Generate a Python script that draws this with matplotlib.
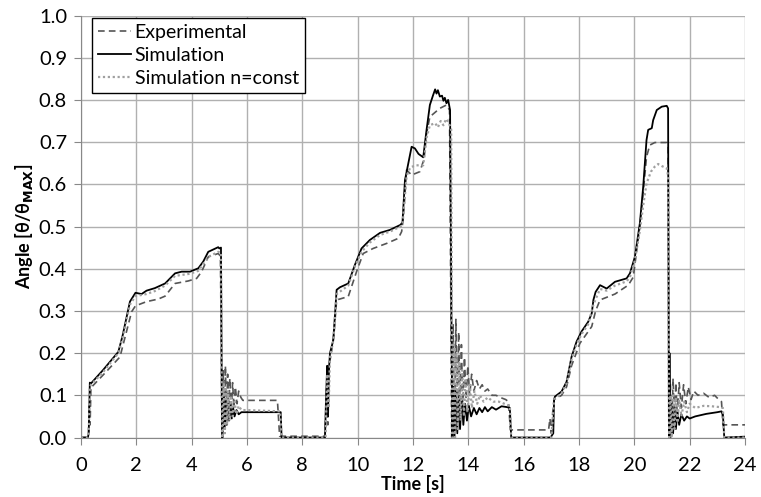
import matplotlib
matplotlib.use('Agg')
import matplotlib.pyplot as plt

plt.rcParams['font.family'] = ['Lato', 'DejaVu Sans']

# Experimental (dashed)
exp_t = [0.0, 0.25, 0.27, 0.30, 0.33, 0.36, 0.39, 0.9, 1.41, 1.83, 1.97, 2.37, 2.79, 3.04, 3.40, 3.88,
         4.18, 4.36, 4.60, 4.96, 5.04, 5.10,
         5.14, 5.18, 5.22, 5.26, 5.30, 5.34, 5.38, 5.43, 5.48, 5.53, 5.58, 5.64, 5.70, 5.78, 5.85,
         6.5, 7.10, 7.18, 8.82, 8.88, 8.92, 8.96, 9.05, 9.15,
         9.24, 9.66, 9.96, 10.20, 10.56, 11.05, 11.47, 11.59, 11.65, 11.77, 11.95, 12.25, 12.40, 12.49,
         12.61, 12.97, 13.21, 13.32, 13.40,
         13.45, 13.50, 13.55, 13.60, 13.65, 13.70, 13.75, 13.80, 13.86, 13.92, 13.98, 14.05, 14.12,
         14.20, 14.30, 14.40, 14.50, 14.60, 14.70, 14.85, 15.00, 15.15, 15.35, 15.45, 15.52,
         16.90, 16.95, 17.00, 17.05, 17.10, 17.37, 17.55, 17.73, 18.03, 18.46, 18.60, 18.76, 19.30,
         19.78, 19.96, 20.08, 20.20, 20.32, 20.44, 20.56, 20.74, 21.17, 21.22, 21.26,
         21.30, 21.35, 21.40, 21.45, 21.50, 21.55, 21.62, 21.70, 21.78, 21.86, 21.95, 22.05, 22.15,
         22.30, 22.50, 22.70, 22.90, 23.05, 23.15, 23.20, 24.0]
exp_y = [0.0, 0.0, 0.003, 0.075, 0.03, 0.12, 0.12, 0.155, 0.191, 0.298, 0.312, 0.322, 0.328, 0.335, 0.365, 0.371,
         0.377, 0.393, 0.428, 0.436, 0.43, 0.0,
         0.16, 0.02, 0.17, 0.04, 0.15, 0.05, 0.14, 0.06, 0.13, 0.07, 0.12, 0.08, 0.11, 0.095, 0.088,
         0.088, 0.088, 0.003, 0.003, 0.12, 0.03, 0.17, 0.20, 0.25,
         0.326, 0.334, 0.393, 0.436, 0.448, 0.460, 0.472, 0.488, 0.52, 0.634, 0.622, 0.630, 0.66, 0.72,
         0.760, 0.780, 0.788, 0.776, 0.0,
         0.27, 0.01, 0.28, 0.03, 0.25, 0.05, 0.22, 0.07, 0.19, 0.09, 0.17, 0.10, 0.15,
         0.11, 0.135, 0.115, 0.125, 0.11, 0.115, 0.10, 0.10, 0.095, 0.09, 0.085, 0.018,
         0.018, 0.045, 0.01, 0.06, 0.09, 0.100, 0.12, 0.17, 0.223, 0.263, 0.30, 0.326, 0.34,
         0.361, 0.38, 0.44, 0.50, 0.58, 0.665, 0.693, 0.699, 0.699, 0.69, 0.0,
         0.13, 0.01, 0.14, 0.03, 0.13, 0.05, 0.13, 0.07, 0.125, 0.08, 0.12, 0.09, 0.11,
         0.10, 0.105, 0.095, 0.10, 0.09, 0.085, 0.03, 0.03]

# Simulation (solid)
sim_t = [0.0, 0.25, 0.28, 0.32, 0.36, 0.8, 1.35, 1.5, 1.77, 1.97, 2.19, 2.37, 2.67, 3.04, 3.40, 3.64,
         3.94, 4.24, 4.42, 4.60, 4.96, 5.00, 5.06, 5.10,
         5.12, 5.15, 5.19, 5.23, 5.27, 5.31, 5.35, 5.40, 5.45, 5.50, 5.55, 5.62, 5.70, 5.80,
         6.5, 7.22, 7.25, 8.82, 8.86, 8.90, 8.93, 8.96, 9.00, 9.12,
         9.24, 9.36, 9.66, 9.90, 10.14, 10.44, 10.81, 11.17, 11.55, 11.62, 11.71, 11.83, 11.95, 12.07,
         12.20, 12.37, 12.49, 12.61, 12.72, 12.80, 12.85, 12.90, 12.97, 13.05, 13.10, 13.15, 13.21,
         13.27, 13.34, 13.42,
         13.46, 13.50, 13.55, 13.60, 13.65, 13.70, 13.76, 13.82, 13.88, 13.95, 14.02, 14.10, 14.20,
         14.30, 14.40, 14.50, 14.60, 14.70, 14.85, 15.00, 15.20, 15.40, 15.50, 15.55,
         16.95, 17.00, 17.07, 17.10, 17.13, 17.37, 17.55, 17.73, 17.91, 18.09, 18.33, 18.46, 18.52,
         18.60, 18.76, 19.00, 19.30, 19.72, 19.84, 20.02, 20.20, 20.32, 20.44, 20.50, 20.63, 20.68,
         20.81, 20.99, 21.17, 21.22, 21.25,
         21.27, 21.30, 21.35, 21.40, 21.45, 21.50, 21.56, 21.62, 21.70, 21.80, 21.90, 22.00, 22.20,
         22.40, 22.60, 22.80, 23.00, 23.15, 23.20, 23.25, 24.0]
sim_y = [0.0, 0.0, 0.01, 0.13, 0.128, 0.16, 0.203, 0.24, 0.322, 0.343, 0.340, 0.348, 0.354, 0.365, 0.389, 0.393,
         0.393, 0.401, 0.417, 0.440, 0.451, 0.448, 0.45, 0.0,
         0.0, 0.10, 0.02, 0.09, 0.03, 0.08, 0.04, 0.075, 0.045, 0.07, 0.05, 0.065, 0.055, 0.06,
         0.06, 0.06, 0.0, 0.0, 0.10, 0.17, 0.05, 0.16, 0.20, 0.231,
         0.35, 0.356, 0.365, 0.409, 0.448, 0.468, 0.485, 0.492, 0.504, 0.51, 0.610, 0.650, 0.689, 0.685,
         0.672, 0.664, 0.729, 0.788, 0.81, 0.825, 0.815, 0.823, 0.808, 0.81, 0.798, 0.805, 0.792,
         0.80, 0.776, 0.0,
         0.12, 0.0, 0.11, 0.01, 0.10, 0.02, 0.09, 0.03, 0.08, 0.04, 0.075, 0.05, 0.07,
         0.055, 0.07, 0.06, 0.072, 0.062, 0.072, 0.066, 0.074, 0.072, 0.07, 0.0,
         0.0, 0.003, 0.01, 0.09, 0.097, 0.109, 0.132, 0.191, 0.227, 0.251, 0.274, 0.294, 0.326,
         0.345, 0.361, 0.353, 0.369, 0.377, 0.389, 0.428, 0.508, 0.594, 0.705, 0.729, 0.733, 0.752,
         0.776, 0.784, 0.786, 0.78, 0.0,
         0.20, 0.0, 0.08, 0.01, 0.07, 0.02, 0.06, 0.03, 0.055, 0.04, 0.05, 0.045, 0.05,
         0.053, 0.056, 0.058, 0.06, 0.062, 0.055, 0.0, 0.002]

# Simulation n=const (dotted)
nc_t = [0.0, 0.25, 0.28, 0.32, 0.36, 0.8, 1.35, 1.5, 1.77, 1.97, 2.37, 2.67, 3.04, 3.40, 3.94, 4.24,
        4.60, 4.96, 5.06, 5.10,
        5.12, 5.16, 5.20, 5.24, 5.28, 5.32, 5.37, 5.42, 5.48, 5.55, 5.62, 5.70, 5.80, 6.00,
        7.20, 7.25, 8.84, 8.90, 8.95, 9.00, 9.12,
        9.24, 9.66, 9.90, 10.14, 10.44, 10.81, 11.17, 11.55, 11.62, 11.77, 11.90, 12.10, 12.37, 12.49,
        12.61, 12.80, 12.90, 13.00, 13.10, 13.20, 13.30, 13.38, 13.42,
        13.44, 13.48, 13.52, 13.57, 13.62, 13.67, 13.72, 13.78, 13.84, 13.90, 13.97, 14.05, 14.13,
        14.22, 14.32, 14.42, 14.55, 14.70, 14.90, 15.10, 15.30, 15.50, 15.55,
        17.00, 17.10, 17.37, 17.55, 17.73, 17.91, 18.09, 18.33, 18.52, 18.76, 19.00, 19.30, 19.72,
        19.84, 20.02, 20.20, 20.32, 20.44, 20.60, 20.74, 20.86, 21.00, 21.17, 21.22, 21.26,
        21.30, 21.35, 21.40, 21.45, 21.50, 21.56, 21.62, 21.70, 21.80, 21.90, 22.00, 22.20, 22.50,
        22.80, 23.10, 23.20, 23.25, 24.0]
nc_y = [0.0, 0.0, 0.005, 0.12, 0.125, 0.155, 0.20, 0.235, 0.315, 0.335, 0.340, 0.347, 0.36, 0.383, 0.388, 0.395,
        0.428, 0.44, 0.438, 0.0,
        0.0, 0.13, 0.01, 0.12, 0.03, 0.11, 0.04, 0.095, 0.05, 0.085, 0.055, 0.075, 0.065, 0.065,
        0.062, 0.0, 0.0, 0.15, 0.07, 0.19, 0.23,
        0.34, 0.36, 0.405, 0.44, 0.462, 0.48, 0.488, 0.50, 0.505, 0.62, 0.64, 0.645, 0.645, 0.71,
        0.74, 0.745, 0.735, 0.75, 0.74, 0.755, 0.745, 0.73, 0.0,
        0.0, 0.22, 0.0, 0.20, 0.02, 0.18, 0.04, 0.16, 0.05, 0.14, 0.06, 0.125, 0.07,
        0.11, 0.08, 0.10, 0.085, 0.095, 0.085, 0.085, 0.08, 0.075, 0.0,
        0.0, 0.09, 0.105, 0.128, 0.185, 0.22, 0.245, 0.268, 0.315, 0.352, 0.348, 0.36, 0.37,
        0.38, 0.42, 0.49, 0.55, 0.602, 0.63, 0.642, 0.648, 0.643, 0.638, 0.62, 0.0,
        0.10, 0.0, 0.10, 0.02, 0.095, 0.035, 0.09, 0.05, 0.085, 0.06, 0.08, 0.07, 0.075,
        0.074, 0.072, 0.07, 0.0, 0.0]

x_ticks = list(range(0, 25, 2))
y_ticks = [i / 10 for i in range(11)]

fig = plt.figure(figsize=(7.61, 4.97), dpi=100)
ax = fig.add_axes([0.1064, 0.1197, 0.8726, 0.8491])

ax.plot(exp_t, exp_y, color='#555555', linestyle=(0, (4, 2.5)), linewidth=1.2, label='Experimental')
ax.plot(sim_t, sim_y, color='black', linestyle='-', linewidth=1.3, label='Simulation')
ax.plot(nc_t, nc_y, color='#a0a0a0', linestyle=(0, (1, 1.2)), linewidth=1.6, label='Simulation n=const')

ax.set_xlim(0, 24)
ax.set_ylim(0, 1.0)
ax.set_xticks(x_ticks)
ax.set_yticks(y_ticks)
ax.set_yticklabels([f'{v:.1f}' for v in y_ticks])
ax.grid(True, color='#b0b0b0', linewidth=1.0)
ax.set_axisbelow(True)
for s in ['top', 'right']:
    ax.spines[s].set_visible(False)
for s in ['left', 'bottom']:
    ax.spines[s].set_color('#888888')
ax.tick_params(axis='both', labelsize=14.5, color='#888888', length=5, direction='out')
ax.tick_params(axis='y', pad=5)
ax.tick_params(axis='x', pad=9)

ax.set_xlabel('Time [s]', fontsize=13, fontweight='bold', labelpad=1)
ax.set_ylabel(r'Angle [θ/θ$_{\mathbf{MAX}}$]', fontsize=13, fontweight='bold', labelpad=3)

leg = ax.legend(loc='upper left', bbox_to_anchor=(0.012, 1.0), fontsize=14, frameon=True,
                fancybox=False, edgecolor='black', framealpha=1, handlelength=1.7,
                handletextpad=0.2, borderpad=0.3, labelspacing=0.3, borderaxespad=0.15)
leg.get_frame().set_linewidth(1.0)

fig.savefig('out.png', dpi=100)
